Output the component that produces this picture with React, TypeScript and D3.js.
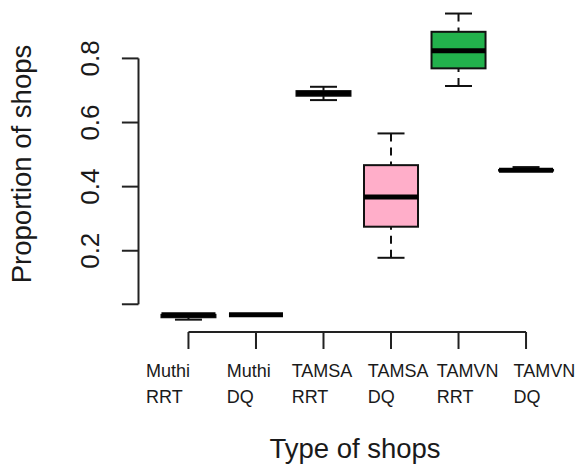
import React from "react";
import * as d3 from "d3";

const categories = ["Muthi RRT", "Muthi DQ", "TAMSA RRT", "TAMSA DQ", "TAMVN RRT", "TAMVN DQ"];
const labelLine1 = ["Muthi", "Muthi", "TAMSA", "TAMSA", "TAMVN", "TAMVN"];
const labelLine2 = ["RRT", "DQ", "RRT", "DQ", "RRT", "DQ"];
const lowerWhisker = [-0.015, 0.0, 0.670, 0.178, 0.714, 0.449];
const q1 = [-0.0075, 0.0, 0.6835, 0.275, 0.769, 0.450];
const median = [0.0, 0.0, 0.691, 0.368, 0.824, 0.451];
const q3 = [0.0, 0.0, 0.698, 0.467, 0.883, 0.452];
const upperWhisker = [0.0, 0.0, 0.7115, 0.566, 0.940, 0.461];
const fills = ["#ffffff", "#ffffff", "#ffffff", "#ffaec9", "#22b14c", "#ffffff"];
const yTicks = [0.2, 0.4, 0.6, 0.8];
const yAxisBottom = 0.033;

// layout
const W = 580, H = 472;
const plotLeft = 138.5, plotRight = 576, plotTop = 1.2, plotBottom = 332;
const labelOffsets = [-42.5, -29.3, -31.8, -23.2, -21.8, -12.5];

export default function App() {
  const x = d3.scaleLinear().domain([0.26, 6.74]).range([plotLeft, plotRight]);
  const y = d3.scaleLinear().domain([-0.0535, 0.9785]).range([plotBottom, plotTop]);
  const unit = x(1) - x(0);
  const boxHalf = unit * 0.4;
  const capHalf = boxHalf * 0.5;
  const font = "'Liberation Sans', Arial, sans-serif";

  return (
    <svg width={W} height={H} style={{ position: "absolute", left: 0, top: 0, background: "#fff" }}
      fontFamily={font}>
      {/* y axis */}
      <line x1={plotLeft} x2={plotLeft} y1={y(d3.max(yTicks)!)} y2={y(yAxisBottom)} stroke="#222" strokeWidth={2} />
      {[yAxisBottom, ...yTicks].map((t) => (
        <line key={"yt" + t} x1={plotLeft - 16.6} x2={plotLeft} y1={y(t)} y2={y(t)} stroke="#222" strokeWidth={2} />
      ))}
      {yTicks.map((t) => (
        <text key={"yl" + t} transform={`translate(99,${y(t)}) rotate(-90)`} textAnchor="middle"
          fontSize={26} fill="#1a1a1a">{d3.format(".1f")(t)}</text>
      ))}
      <text transform={`translate(31,164) rotate(-90)`} textAnchor="middle" fontSize={27.5} fill="#1a1a1a">
        Proportion of shops
      </text>

      {/* x axis */}
      <line x1={x(1)} x2={x(categories.length)} y1={plotBottom} y2={plotBottom} stroke="#222" strokeWidth={2} />
      {categories.map((c, i) => (
        <line key={"xt" + c} x1={x(i + 1)} x2={x(i + 1)} y1={plotBottom} y2={plotBottom + 17} stroke="#222" strokeWidth={2} />
      ))}
      {categories.map((c, i) => (
        <text key={"xl" + c} x={x(i + 1) + labelOffsets[i]} y={377.3} fontSize={18} fill="#1a1a1a">
          <tspan x={x(i + 1) + labelOffsets[i]}>{labelLine1[i]}</tspan>
          <tspan x={x(i + 1) + labelOffsets[i]} dy={26}>{labelLine2[i]}</tspan>
        </text>
      ))}
      <text x={355} y={458.3} textAnchor="middle" fontSize={27.5} fill="#1a1a1a">Type of shops</text>

      {/* boxes */}
      {categories.map((c, i) => {
        const cx = x(i + 1);
        return (
          <g key={"b" + c}>
            <line x1={cx} x2={cx} y1={y(upperWhisker[i])} y2={y(q3[i])} stroke="#111" strokeWidth={2} strokeDasharray="8,6" />
            <line x1={cx} x2={cx} y1={y(lowerWhisker[i])} y2={y(q1[i])} stroke="#111" strokeWidth={2} strokeDasharray="8,6" />
            <line x1={cx - capHalf} x2={cx + capHalf} y1={y(upperWhisker[i])} y2={y(upperWhisker[i])} stroke="#111" strokeWidth={2} />
            <line x1={cx - capHalf} x2={cx + capHalf} y1={y(lowerWhisker[i])} y2={y(lowerWhisker[i])} stroke="#111" strokeWidth={2} />
            <rect x={cx - boxHalf} width={boxHalf * 2} y={y(q3[i])} height={Math.max(0, y(q1[i]) - y(q3[i]))}
              fill={fills[i]} stroke="#111" strokeWidth={2} />
            <line x1={cx - boxHalf} x2={cx + boxHalf} y1={y(median[i])} y2={y(median[i])} stroke="#000" strokeWidth={5} />
          </g>
        );
      })}
    </svg>
  );
}
